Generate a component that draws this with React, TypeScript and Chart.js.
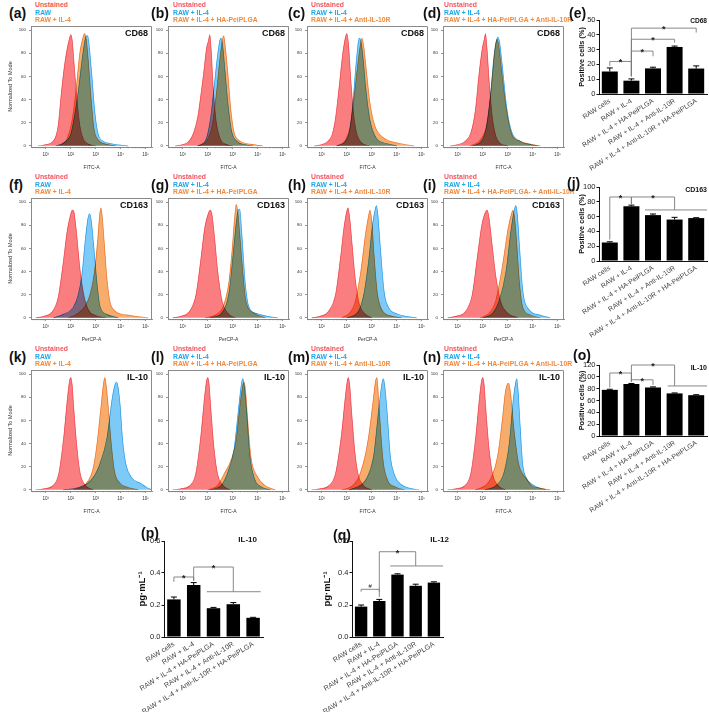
import React, { useEffect, useRef } from 'react';
import { Chart, registerables } from 'chart.js';

Chart.register(...registerables);

const FONT = "'Liberation Sans', Arial, Helvetica, sans-serif";

/* ---------- histogram data: [log10 fluorescence, % of mode] ---------- */
// (a) CD68
const aUnstained = [[0.7,0],[1.0,1],[1.25,3],[1.4,8],[1.5,18],[1.62,45],[1.74,68],[1.84,82],[1.94,92],[2.0,96],[2.06,91],[2.13,72],[2.24,42],[2.36,18],[2.5,6],[2.7,1.5],[3.0,0]];
const aRaw = [[1.4,0],[1.75,3],[2.0,10],[2.12,22],[2.3,47],[2.44,72],[2.55,89],[2.62,95],[2.68,95],[2.75,84],[2.84,62],[2.97,28],[3.1,10],[3.3,4],[3.6,2],[3.9,0.8],[4.3,0]];
const aIL4 = [[1.5,0],[1.85,6],[2.05,22],[2.22,50],[2.36,80],[2.48,93],[2.55,97],[2.62,92],[2.7,74],[2.8,45],[2.92,16],[3.1,5],[3.4,1.5],[3.8,0]];
// (b)
const bUnstained = [[0.7,0],[1.0,1],[1.25,4],[1.43,11],[1.6,25],[1.73,45],[1.83,62],[1.95,84],[2.03,91],[2.08,96],[2.14,82],[2.22,50],[2.33,22],[2.5,6],[2.7,1.5],[3.0,0]];
const bIL4 = [[1.6,0],[1.9,4],[2.1,22],[2.25,50],[2.38,76],[2.48,91],[2.53,93],[2.6,86],[2.7,62],[2.83,32],[2.96,12],[3.16,4],[3.5,1],[3.8,0]];
const bHA = [[1.6,0],[1.95,4],[2.18,18],[2.34,44],[2.48,74],[2.58,91],[2.64,95],[2.7,86],[2.8,64],[2.92,32],[3.05,12],[3.3,4],[3.7,1.5],[4.2,0]];
// (c)
const cUnstained = [[0.7,0],[1.0,1],[1.25,4],[1.42,10],[1.55,24],[1.7,52],[1.83,78],[1.93,92],[2.0,97],[2.07,88],[2.16,58],[2.28,26],[2.42,9],[2.6,2.5],[2.9,0]];
const cIL4 = [[1.6,0],[1.95,4],[2.12,14],[2.25,38],[2.36,68],[2.45,88],[2.5,93],[2.57,90],[2.66,74],[2.76,50],[2.93,22],[3.2,6],[3.6,2],[4.0,0]];
const cAnti = [[1.6,0],[1.95,5],[2.15,18],[2.3,43],[2.45,72],[2.55,88],[2.61,93],[2.68,86],[2.8,62],[2.93,37],[3.13,17],[3.47,7],[4.0,2.5],[4.4,0.8],[4.7,0]];
// (d)
const dUnstained = [[0.7,0],[1.0,1],[1.3,4],[1.52,11],[1.7,30],[1.85,62],[1.98,84],[2.06,92],[2.11,97],[2.17,84],[2.26,55],[2.38,25],[2.53,8],[2.7,2],[3.0,0]];
const dIL4 = [[1.6,0],[1.95,4],[2.13,15],[2.3,42],[2.45,78],[2.55,91],[2.6,94],[2.67,90],[2.77,72],[2.96,33],[3.16,12],[3.5,4],[3.9,1],[4.2,0]];
const dBoth = [[1.5,0],[1.9,5],[2.18,20],[2.34,50],[2.47,80],[2.53,90],[2.58,92],[2.65,85],[2.75,66],[2.94,32],[3.16,10],[3.5,4],[3.9,1.5],[4.3,0]];
// (f) CD163
const fUnstained = [[0.6,0],[0.95,1.5],[1.25,5],[1.5,18],[1.7,48],[1.85,74],[1.98,88],[2.06,93],[2.12,92],[2.21,78],[2.36,44],[2.5,22],[2.7,7],[3.0,2],[3.4,0]];
const fRaw = [[1.3,0],[1.7,3],[2.1,9],[2.3,20],[2.45,38],[2.57,65],[2.68,85],[2.75,90],[2.82,84],[2.92,62],[3.04,32],[3.17,10],[3.44,3],[3.9,0]];
const fIL4 = [[1.9,0],[2.3,4],[2.57,10],[2.77,20],[2.95,40],[3.08,68],[3.16,90],[3.21,95],[3.27,85],[3.35,62],[3.44,36],[3.56,15],[3.77,6],[4.24,2.5],[4.77,0.8],[5.1,0]];
// (g)
const gUnstained = [[0.6,0],[0.95,1.5],[1.25,5],[1.52,19],[1.72,50],[1.88,78],[2.02,90],[2.1,93],[2.17,89],[2.27,70],[2.4,40],[2.58,14],[2.8,4],[3.1,0]];
const gIL4 = [[2.1,0],[2.55,4],[2.85,22],[3.03,58],[3.16,86],[3.22,93],[3.28,94],[3.36,74],[3.5,30],[3.64,10],[4.0,3.5],[4.4,1.2],[4.8,0]];
const gHA = [[1.9,0],[2.35,3],[2.62,10],[2.84,30],[2.98,60],[3.08,88],[3.14,98],[3.2,92],[3.28,72],[3.4,40],[3.53,14],[3.86,4],[4.3,0]];
// (h)
const hUnstained = [[0.6,0],[0.95,1.5],[1.25,5],[1.55,20],[1.75,52],[1.9,80],[2.0,92],[2.05,95],[2.12,86],[2.22,62],[2.35,32],[2.5,12],[2.7,4],[3.0,0]];
const hIL4 = [[2.0,0],[2.45,5],[2.68,20],[2.88,50],[3.04,82],[3.14,94],[3.19,97],[3.25,88],[3.34,62],[3.5,22],[3.7,8],[4.0,3.5],[4.4,1.2],[4.8,0]];
const hAnti = [[1.8,0],[2.15,5],[2.35,15],[2.56,40],[2.76,74],[2.87,88],[2.93,93],[3.0,84],[3.1,52],[3.22,22],[3.4,7],[3.8,1.5],[4.2,0]];
// (i)
const iUnstained = [[0.6,0],[0.95,1.5],[1.3,5],[1.58,20],[1.78,52],[1.96,80],[2.1,91],[2.18,93],[2.26,85],[2.36,66],[2.53,35],[2.73,13],[3.0,4],[3.4,0]];
const iIL4 = [[2.0,0],[2.4,4],[2.66,15],[2.93,40],[3.12,74],[3.25,92],[3.32,97],[3.38,90],[3.47,62],[3.6,24],[3.86,7],[4.26,2.5],[4.7,0]];
const iBoth = [[1.9,0],[2.3,5],[2.52,15],[2.78,44],[3.02,78],[3.15,90],[3.21,93],[3.28,85],[3.36,64],[3.47,30],[3.6,9],[3.9,2.5],[4.3,0]];
// (k) IL-10
const kUnstained = [[0.6,0],[0.95,1],[1.25,3],[1.52,14],[1.73,48],[1.87,80],[1.95,94],[2.0,97],[2.05,92],[2.13,68],[2.25,36],[2.38,14],[2.58,4],[2.9,0]];
const kRaw = [[1.7,0],[2.3,2],[2.8,8],[3.14,21],[3.45,45],[3.65,78],[3.77,91],[3.83,93],[3.9,88],[3.98,72],[4.07,44],[4.21,22],[4.42,11],[4.84,5],[5.04,2],[5.25,0]];
const kIL4 = [[2.1,0],[2.6,5],[2.9,19],[3.05,40],[3.2,70],[3.3,90],[3.36,97],[3.42,90],[3.5,72],[3.62,40],[3.75,16],[3.96,6],[4.3,2],[4.7,0]];
// (l)
const lUnstained = [[0.6,0],[0.95,1],[1.25,3],[1.52,14],[1.73,48],[1.87,80],[1.95,94],[2.0,97],[2.05,92],[2.13,68],[2.25,36],[2.4,13],[2.6,4],[2.9,0]];
const lIL4 = [[2.1,0],[2.55,4],[2.8,15],[3.05,35],[3.24,72],[3.35,92],[3.4,96],[3.46,90],[3.56,66],[3.68,30],[3.88,9],[4.15,2.5],[4.5,0]];
const lHA = [[2.0,0],[2.4,4],[2.66,14],[2.92,25],[3.13,42],[3.3,75],[3.41,91],[3.46,93],[3.52,84],[3.6,60],[3.73,28],[4.0,11],[4.27,4],[4.7,0]];
// (m)
const mUnstained = [[0.6,0],[0.95,1],[1.25,3],[1.55,14],[1.8,50],[1.94,80],[2.02,94],[2.07,97],[2.12,90],[2.2,66],[2.32,34],[2.46,13],[2.65,4],[3.0,0]];
const mIL4 = [[2.1,0],[2.55,4],[2.8,10],[3.08,30],[3.28,70],[3.4,91],[3.46,96],[3.52,90],[3.62,66],[3.74,30],[3.91,13],[4.18,4.5],[4.6,1],[4.9,0]];
const mAnti = [[1.8,0],[2.2,3],[2.46,10],[2.74,30],[2.9,50],[3.06,78],[3.16,95],[3.21,97],[3.27,80],[3.36,50],[3.46,24],[3.64,8],[3.95,2.5],[4.3,0]];
// (n)
const nUnstained = [[0.6,0],[0.95,1],[1.25,3],[1.52,14],[1.73,48],[1.87,80],[1.95,94],[2.0,97],[2.05,92],[2.13,68],[2.25,36],[2.4,13],[2.6,4],[2.9,0]];
const nIL4 = [[2.1,0],[2.55,4],[2.85,15],[3.06,40],[3.22,78],[3.31,92],[3.36,96],[3.42,84],[3.5,54],[3.6,22],[3.73,11],[4.07,3.5],[4.5,0]];
const nBoth = [[1.7,0],[2.05,3],[2.33,10],[2.6,30],[2.78,60],[2.9,84],[2.98,91],[3.04,92],[3.12,82],[3.26,50],[3.44,22],[3.62,13],[3.73,10],[3.93,4],[4.3,1.5],[4.7,0]];

const HIST_X_TICKS = [1, 2, 3, 4, 5];
const HIST_X_LABELS = ['10¹', '10²', '10³', '10⁴', '10⁵'];
const HIST_Y_TICKS = [0, 20, 40, 60, 80, 100];
const HIST_X_MIN = 0.41;
const HIST_X_MAX = 5.25;
const HIST_Y_MIN = -1;
const HIST_Y_MAX = 103.5;

/* ---------- bar data ---------- */
const GROUPS = ['RAW cells', 'RAW + IL-4', 'RAW + IL-4 + HA-PeiPLGA', 'RAW + IL-4 + Anti-IL-10R', 'RAW + IL-4 + Anti-IL-10R + HA-PeiPLGA'];

const cd68Pos = [15.2, 9, 17.3, 31.8, 17.2];
const cd68Err = [2.4, 1.2, 0.8, 0.6, 1.8];
const CD68_TICKS = [0, 10, 20, 30, 40, 50];
const cd68Sig = [
  { from: 0, to: 1, y: 22, downFrom: 19, downTo: 12, text: '*' },
  { from: 1, to: 2, y: 29, downFrom: 12, downTo: 25.5, text: '*' },
  { from: 1, to: 3, y: 37, downFrom: 12, downTo: 34.7, text: '*' },
  { from: 1, to: 4, y: 44.5, downFrom: 12, downTo: 41.5, text: '*' },
];
const cd68Groups = [];

const cd163Pos = [25, 74, 62, 56, 58];
const cd163Err = [1, 1.5, 1.5, 3, 0.5];
const CD163_TICKS = [0, 20, 40, 60, 80, 100];
const cd163Sig = [
  { from: 0, to: 1, y: 86.5, downFrom: 29, downTo: 77, text: '*' },
  { from: 1, to: 3, y: 86.5, downFrom: 77, downTo: 69, text: '*' },
];
const cd163Groups = [{ from: 1.63, to: 4.5, y: 69 }];

const il10Pos = [78, 88, 82, 72, 69];
const il10Err = [1, 0.8, 1, 0.8, 0.8];
const IL10_TICKS = [0, 20, 40, 60, 80, 100, 120];
const il10Sig = [
  { from: 0, to: 1, y: 106.5, downFrom: 82, downTo: 92, text: '*' },
  { from: 1, to: 2, y: 95, downFrom: 92, downTo: 86, text: '*' },
  { from: 1, to: 3, y: 120, downFrom: 92, downTo: 84.6, text: '*' },
];
const il10Groups = [{ from: 2.68, to: 4.5, y: 84.6 }];

const elisaIL10 = [0.235, 0.325, 0.18, 0.205, 0.12];
const elisaIL10Err = [0.015, 0.015, 0.005, 0.01, 0.003];
const elisaIL12 = [0.19, 0.225, 0.39, 0.32, 0.34];
const elisaIL12Err = [0.01, 0.01, 0.005, 0.01, 0.005];
const ELISA_TICKS = [0, 0.2, 0.4, 0.6];
const elisaIL10Sig = [
  { from: 0, to: 1, y: 0.375, downFrom: 0.345, downTo: 0.352, text: '*' },
  { from: 1, to: 3, y: 0.4375, downFrom: 0.352, downTo: 0.283, text: '*' },
];
const elisaIL10Groups = [{ from: 1.66, to: 4.38, y: 0.283 }];
const elisaIL12Sig = [
  { from: 0, to: 1, y: 0.298, downFrom: 0.283, downTo: 0.283, text: '#' },
  { from: 1, to: 3, y: 0.533, downFrom: 0.25, downTo: 0.444, text: '*' },
];
const elisaIL12Groups = [{ from: 1.6, to: 4.5, y: 0.444 }];

/* ---------- styles / layout ---------- */
const RED_FILL = 'rgb(250,125,128)';
const RED_LINE = 'rgb(238,84,92)';
const BLUE_FILL = 'rgb(125,202,246)';
const BLUE_LINE = 'rgb(45,168,234)';
const ORANGE_FILL = 'rgb(247,172,108)';
const ORANGE_LINE = 'rgb(240,130,55)';
const TXT_RED = '#f4535d';
const TXT_BLUE = '#1ea7ea';
const TXT_ORANGE = '#f28a3c';

const HIST_COLS = [31, 168, 307, 443];
const HIST_ROWS = [26, 198, 370];
const HIST_SIZE = 121;
const H_PAD_T = 3;
const H_PAD_R = 3;
const H_XH = 26;
const LETTER_X = [9, 151, 288, 423];
const LEGEND_X = [35, 173, 311, 444];
const MARKERS = ['CD68', 'CD163', 'IL-10'];
const XTITLES = ['FITC-A', 'PerCP-A', 'FITC-A'];

const histPanels = [
  { id: '(a)', row: 0, col: 0, legend: ['Unstained', 'RAW', 'RAW + IL-4'], curves: [aUnstained, aRaw, aIL4] },
  { id: '(b)', row: 0, col: 1, legend: ['Unstained', 'RAW + IL-4', 'RAW + IL-4 + HA-PeiPLGA'], curves: [bUnstained, bIL4, bHA] },
  { id: '(c)', row: 0, col: 2, legend: ['Unstained', 'RAW + IL-4', 'RAW + IL-4 + Anti-IL-10R'], curves: [cUnstained, cIL4, cAnti] },
  { id: '(d)', row: 0, col: 3, legend: ['Unstained', 'RAW + IL-4', 'RAW + IL-4 + HA-PeiPLGA + Anti-IL-10R'], curves: [dUnstained, dIL4, dBoth] },
  { id: '(f)', row: 1, col: 0, legend: ['Unstained', 'RAW', 'RAW + IL-4'], curves: [fUnstained, fRaw, fIL4] },
  { id: '(g)', row: 1, col: 1, legend: ['Unstained', 'RAW + IL-4', 'RAW + IL-4 + HA-PeiPLGA'], curves: [gUnstained, gIL4, gHA] },
  { id: '(h)', row: 1, col: 2, legend: ['Unstained', 'RAW + IL-4', 'RAW + IL-4 + Anti-IL-10R'], curves: [hUnstained, hIL4, hAnti] },
  { id: '(i)', row: 1, col: 3, legend: ['Unstained', 'RAW + IL-4', 'RAW + IL-4 + HA-PeiPLGA- + Anti-IL-10R'], curves: [iUnstained, iIL4, iBoth] },
  { id: '(k)', row: 2, col: 0, legend: ['Unstained', 'RAW', 'RAW + IL-4'], curves: [kUnstained, kRaw, kIL4] },
  { id: '(l)', row: 2, col: 1, legend: ['Unstained', 'RAW + IL-4', 'RAW + IL-4 + HA-PeiPLGA'], curves: [lUnstained, lIL4, lHA] },
  { id: '(m)', row: 2, col: 2, legend: ['Unstained', 'RAW + IL-4', 'RAW + IL-4 + Anti-IL-10R'], curves: [mUnstained, mIL4, mAnti] },
  { id: '(n)', row: 2, col: 3, legend: ['Unstained', 'RAW + IL-4', 'RAW + IL-4 + HA-PeiPLGA + Anti-IL-10R'], curves: [nUnstained, nIL4, nBoth] },
];

const barPanels = [
  { id: '(e)', lx: 569, ly: 13, l: 599, t: 20, w: 108, h: 74, values: cd68Pos, errors: cd68Err, ticks: CD68_TICKS, sig: cd68Sig, groups: cd68Groups, title: 'CD68', titleX: 707, titleY: 21, titleSize: 6.6, yTitle: 'Positive cells (%)', yTitleSize: 7.3, yTitlePad: 12.6, yw: 34, xh: 85, barPct: 0.74, xFont: 6.9, yFont: 7.5, rot: 33, decimals: 0 },
  { id: '(j)', lx: 567, ly: 183, l: 599, t: 187, w: 108, h: 74, values: cd163Pos, errors: cd163Err, ticks: CD163_TICKS, sig: cd163Sig, groups: cd163Groups, title: 'CD163', titleX: 707, titleY: 189, titleSize: 7, yTitle: 'Positive cells (%)', yTitleSize: 7.3, yTitlePad: 12.6, yw: 34, xh: 85, barPct: 0.74, xFont: 6.9, yFont: 7.5, rot: 33, decimals: 0 },
  { id: '(o)', lx: 573, ly: 355, l: 599, t: 365, w: 108, h: 71, values: il10Pos, errors: il10Err, ticks: IL10_TICKS, sig: il10Sig, groups: il10Groups, title: 'IL-10', titleX: 707, titleY: 367, titleSize: 7, yTitle: 'Positive cells (%)', yTitleSize: 7.3, yTitlePad: 12.6, yw: 34, xh: 85, barPct: 0.74, xFont: 6.9, yFont: 7.5, rot: 33, decimals: 0 },
  { id: '(p)', lx: 141, ly: 533, l: 164, t: 541, w: 99, h: 96, values: elisaIL10, errors: elisaIL10Err, ticks: ELISA_TICKS, sig: elisaIL10Sig, groups: elisaIL10Groups, title: 'IL-10', titleX: 257, titleY: 540, titleSize: 8, yTitle: 'pg·mL⁻¹', yTitleSize: 9.5, yTitlePad: 6.3, yw: 34, xh: 80, barPct: 0.68, xFont: 7.1, yFont: 7.5, rot: 32, decimals: 1 },
  { id: '(q)', lx: 333, ly: 535, l: 352, t: 541, w: 91, h: 96, values: elisaIL12, errors: elisaIL12Err, ticks: ELISA_TICKS, sig: elisaIL12Sig, groups: elisaIL12Groups, title: 'IL-12', titleX: 449, titleY: 540, titleSize: 8, yTitle: 'pg·mL⁻¹', yTitleSize: 9.5, yTitlePad: 3.3, yw: 34, xh: 80, barPct: 0.68, xFont: 7.1, yFont: 7.5, rot: 32, decimals: 1 },
];
const B_PAD_T = 12;
const B_PAD_R = 2;

/* ---------- plugins ---------- */
const multiplyPlugin = {
  id: 'multiplyFill',
  beforeDatasetsDraw(chart: any) {
    chart.ctx.save();
    chart.ctx.globalCompositeOperation = 'multiply';
  },
  afterDatasetsDraw(chart: any) {
    chart.ctx.restore();
  },
};

const framePlugin = {
  id: 'frame',
  afterDraw(chart: any) {
    const { left, top, right, bottom } = chart.chartArea;
    const ctx = chart.ctx;
    ctx.save();
    ctx.strokeStyle = '#8a8a8a';
    ctx.lineWidth = 1;
    ctx.beginPath();
    ctx.moveTo(Math.round(left) + 0.5, Math.round(top) + 0.5);
    ctx.lineTo(Math.round(right) - 0.5, Math.round(top) + 0.5);
    ctx.lineTo(Math.round(right) - 0.5, Math.round(bottom) + 0.5);
    ctx.stroke();
    ctx.restore();
  },
};

const minorTicksPlugin = {
  id: 'minorTicks',
  afterDraw(chart: any) {
    const s = chart.scales.x;
    const ctx = chart.ctx;
    ctx.save();
    ctx.strokeStyle = '#777';
    ctx.lineWidth = 0.6;
    ctx.beginPath();
    for (let d = 0; d < 6; d++) {
      for (let k = 2; k < 10; k++) {
        const v = d + Math.log10(k);
        if (v < s.min || v > s.max) continue;
        const x = s.getPixelForValue(v);
        ctx.moveTo(x, s.top);
        ctx.lineTo(x, s.top + 1.3);
      }
    }
    ctx.stroke();
    ctx.restore();
  },
};

function barDecor(p: any) {
  return {
    id: 'barDecor',
    afterDatasetsDraw(chart: any) {
      const ctx = chart.ctx;
      const xs = chart.scales.x;
      const ys = chart.scales.y;
      const meta = chart.getDatasetMeta(0);
      ctx.save();
      ctx.strokeStyle = '#000';
      ctx.lineWidth = 1;
      meta.data.forEach((bar: any, i: number) => {
        const v = p.values[i];
        const y0 = ys.getPixelForValue(v);
        const y1 = ys.getPixelForValue(v + p.errors[i]);
        ctx.beginPath();
        ctx.moveTo(bar.x, y0);
        ctx.lineTo(bar.x, y1);
        ctx.moveTo(bar.x - 3, y1);
        ctx.lineTo(bar.x + 3, y1);
        ctx.stroke();
      });
      ctx.strokeStyle = '#7a7a7a';
      ctx.lineWidth = 0.9;
      p.sig.forEach((b: any) => {
        const x1 = xs.getPixelForValue(b.from);
        const x2 = xs.getPixelForValue(b.to);
        const y = ys.getPixelForValue(b.y);
        ctx.beginPath();
        ctx.moveTo(x1, ys.getPixelForValue(b.downFrom));
        ctx.lineTo(x1, y);
        ctx.lineTo(x2, y);
        ctx.lineTo(x2, ys.getPixelForValue(b.downTo));
        ctx.stroke();
        ctx.fillStyle = '#222';
        ctx.textAlign = 'center';
        ctx.textBaseline = 'alphabetic';
        if (b.text === '#') {
          ctx.font = `6px ${FONT}`;
          ctx.fillText(b.text, (x1 + x2) / 2, y - 1.5);
        } else {
          ctx.font = `bold 9px ${FONT}`;
          ctx.fillText(b.text, (x1 + x2) / 2, y + 4);
        }
      });
      p.groups.forEach((g: any) => {
        const y = ys.getPixelForValue(g.y);
        ctx.beginPath();
        ctx.moveTo(xs.getPixelForValue(g.from), y);
        ctx.lineTo(xs.getPixelForValue(g.to), y);
        ctx.stroke();
      });
      ctx.restore();
    },
  };
}

/* ---------- chart configs ---------- */
function histConfig(curves: number[][][], xTitle: string, withYTitle: boolean, yw: number) {
  const styles = [
    { fill: RED_FILL, line: RED_LINE },
    { fill: BLUE_FILL, line: BLUE_LINE },
    { fill: ORANGE_FILL, line: ORANGE_LINE },
  ];
  return {
    type: 'line',
    data: {
      datasets: curves.map((c, i) => ({
        data: c.map(([x, y]) => ({ x, y })),
        fill: 'origin',
        backgroundColor: styles[i].fill,
        borderColor: styles[i].line,
        borderWidth: 0.7,
        pointRadius: 0,
        cubicInterpolationMode: 'monotone',
      })),
    },
    options: {
      animation: false,
      responsive: false,
      events: [],
      layout: { padding: { top: H_PAD_T, right: H_PAD_R, left: 0, bottom: 0 } },
      plugins: { legend: { display: false }, tooltip: { enabled: false } },
      scales: {
        x: {
          type: 'linear',
          min: HIST_X_MIN,
          max: HIST_X_MAX,
          afterBuildTicks: (s: any) => { s.ticks = HIST_X_TICKS.map((v) => ({ value: v })); },
          afterFit: (s: any) => { s.height = H_XH; s.paddingLeft = 0; s.paddingRight = 0; },
          ticks: {
            autoSkip: false, maxRotation: 0, padding: 2.5,
            font: { family: FONT, size: 4.6 }, color: '#333',
            callback: (v: number) => { const k = HIST_X_TICKS.indexOf(v); return k >= 0 ? HIST_X_LABELS[k] : ''; },
          },
          grid: { drawOnChartArea: false, drawTicks: true, tickLength: 2, color: '#777', lineWidth: 0.8 },
          border: { display: true, color: '#8a8a8a', width: 1 },
          title: { display: true, text: xTitle, font: { family: FONT, size: 5 }, color: '#333', padding: { top: 0, bottom: 2 } },
        },
        y: {
          min: HIST_Y_MIN,
          max: HIST_Y_MAX,
          afterBuildTicks: (s: any) => { s.ticks = HIST_Y_TICKS.map((v) => ({ value: v })); },
          afterFit: (s: any) => { s.width = yw; s.paddingTop = 0; s.paddingBottom = 0; },
          ticks: { autoSkip: false, padding: 3, font: { family: FONT, size: 4.4 }, color: '#333' },
          grid: { drawOnChartArea: false, drawTicks: true, tickLength: 2, color: '#777', lineWidth: 0.8 },
          border: { display: true, color: '#8a8a8a', width: 1 },
          title: { display: withYTitle, text: 'Normalized To Mode', font: { family: FONT, size: 5.5 }, color: '#333', padding: { top: 3.7, bottom: 0 } },
        },
      },
    },
    plugins: [multiplyPlugin, framePlugin, minorTicksPlugin],
  };
}

function barConfig(p: any) {
  return {
    type: 'bar',
    data: {
      labels: GROUPS,
      datasets: [{ data: p.values, backgroundColor: '#000', borderWidth: 0, barPercentage: p.barPct, categoryPercentage: 1 }],
    },
    options: {
      animation: false,
      responsive: false,
      events: [],
      layout: { padding: { top: B_PAD_T, right: B_PAD_R, left: 0, bottom: 0 } },
      plugins: { legend: { display: false }, tooltip: { enabled: false } },
      scales: {
        x: {
          type: 'category',
          grid: { display: false, drawTicks: false },
          border: { display: true, color: '#111', width: 1 },
          ticks: { autoSkip: false, minRotation: p.rot, maxRotation: p.rot, padding: 3, font: { family: FONT, size: p.xFont }, color: '#444' },
          afterFit: (s: any) => { s.height = p.xh; s.paddingLeft = 0; s.paddingRight = 0; },
        },
        y: {
          min: 0,
          max: p.ticks[p.ticks.length - 1],
          afterBuildTicks: (s: any) => { s.ticks = p.ticks.map((v: number) => ({ value: v })); },
          afterFit: (s: any) => { s.width = p.yw; s.paddingTop = 0; s.paddingBottom = 0; },
          ticks: {
            autoSkip: false, padding: 1, font: { family: FONT, size: p.yFont }, color: '#222',
            callback: (v: number) => (p.decimals ? v.toFixed(p.decimals) : String(v)),
          },
          grid: { drawOnChartArea: false, drawTicks: true, tickLength: 2.5, color: '#111', lineWidth: 1 },
          border: { display: true, color: '#111', width: 1 },
          title: { display: true, text: p.yTitle, font: { family: FONT, size: p.yTitleSize, weight: 'bold' }, color: '#111', padding: { top: p.yTitlePad, bottom: 0 } },
        },
      },
    },
    plugins: [barDecor(p)],
  };
}

/* ---------- components ---------- */
function ChartBox({ left, top, width, height, make }: any) {
  const ref = useRef<HTMLCanvasElement>(null);
  useEffect(() => {
    const chart = new Chart(ref.current as HTMLCanvasElement, make());
    return () => chart.destroy();
  }, []);
  return <canvas ref={ref} width={width} height={height} style={{ position: 'absolute', left, top, width, height }} />;
}

function Txt({ x, y, text, size, color = '#111', bold = true, right = false }: any) {
  return (
    <div
      style={{
        position: 'absolute', left: x, top: y, fontSize: size, lineHeight: 1, color,
        fontWeight: bold ? 700 : 400, whiteSpace: 'nowrap', fontFamily: FONT,
        transform: right ? 'translate(-100%, -50%)' : 'translateY(-50%)',
      }}
    >
      {text}
    </div>
  );
}

export default function App() {
  const legendColors = [TXT_RED, TXT_BLUE, TXT_ORANGE];
  const legendDy = [-21.5, -13.5, -5.8];
  return (
    <div style={{ position: 'absolute', left: 0, top: 0, width: 709, height: 712, overflow: 'hidden', background: '#fff', fontFamily: FONT }}>
      {histPanels.map((p) => {
        const pl = HIST_COLS[p.col];
        const pt = HIST_ROWS[p.row];
        const yw = p.col === 0 ? 28 : 14;
        return (
          <React.Fragment key={p.id}>
            <ChartBox
              left={pl - yw}
              top={pt - H_PAD_T}
              width={yw + HIST_SIZE + H_PAD_R}
              height={H_PAD_T + HIST_SIZE + H_XH}
              make={() => histConfig(p.curves, XTITLES[p.row], p.col === 0, yw)}
            />
            <Txt x={LETTER_X[p.col]} y={pt - 13} text={p.id} size={14} />
            {p.legend.map((t, i) => (
              <Txt key={i} x={LEGEND_X[p.col]} y={pt + legendDy[i]} text={t} size={6.8} color={legendColors[i]} />
            ))}
            <Txt x={pl + HIST_SIZE - 4} y={pt + 7} text={MARKERS[p.row]} size={9} right />
          </React.Fragment>
        );
      })}
      {barPanels.map((p) => (
        <React.Fragment key={p.id}>
          <ChartBox
            left={p.l - p.yw}
            top={p.t - B_PAD_T}
            width={p.yw + p.w + B_PAD_R}
            height={B_PAD_T + p.h + p.xh}
            make={() => barConfig(p)}
          />
          <Txt x={p.lx} y={p.ly} text={p.id} size={14} />
          <Txt x={p.titleX} y={p.titleY} text={p.title} size={p.titleSize} right />
        </React.Fragment>
      ))}
    </div>
  );
}
